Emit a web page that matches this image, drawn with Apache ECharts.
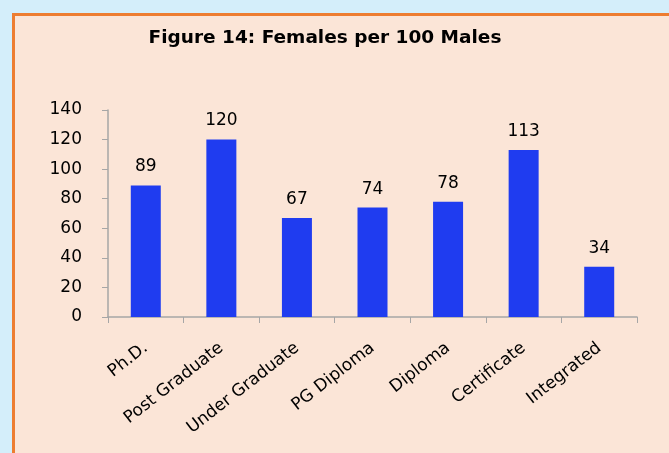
<!DOCTYPE html>
<html>
<head>
<meta charset="utf-8">
<script src="https://cdn.jsdelivr.net/npm/echarts@6/dist/echarts.min.js"></script>
<style>
  html, body { margin: 0; padding: 0; background: #d4eefa; }
  #chart { width: 669px; height: 453px; }
</style>
</head>
<body>
<div id="chart"></div>
<script>
const categories = ['Ph.D.', 'Post Graduate', 'Under Graduate', 'PG Diploma', 'Diploma', 'Certificate', 'Integrated']
const femalesPer100Males = [89, 120, 67, 74, 78, 113, 34]
const yTicks = [0, 20, 40, 60, 80, 100, 120, 140]

const font = 'DejaVu Sans, sans-serif'
const chart = echarts.init(document.getElementById('chart'))

chart.setOption({
  backgroundColor: '#d4eefa',
  animation: false,
  graphic: [{
    type: 'rect',
    z: -10,
    shape: { x: 13.5, y: 14.5, width: 700, height: 500 },
    style: { fill: '#fbe5d7', stroke: '#ed7d31', lineWidth: 3 }
  }],
  title: {
    text: 'Figure 14: Females per 100 Males',
    left: 320,
    textAlign: 'center',
    top: 24,
    textStyle: { fontFamily: font, fontWeight: 'bold', fontSize: 18.5, color: '#000' }
  },
  grid: { left: 108, right: 32, top: 110, bottom: 136, outerBoundsMode: 'none' },
  xAxis: {
    type: 'category',
    data: categories,
    axisLine: { lineStyle: { color: '#a6a6a6', width: 1.5 } },
    axisTick: { show: true, length: 6, lineStyle: { color: '#a6a6a6' } },
    axisLabel: { rotate: 38, interval: 0, margin: 29, fontFamily: font, fontSize: 17, color: '#000' }
  },
  yAxis: {
    type: 'value',
    min: yTicks[0],
    max: yTicks[yTicks.length - 1],
    interval: 20,
    axisLine: { show: true, lineStyle: { color: '#a6a6a6', width: 1.5 } },
    axisTick: { show: true, length: 6, lineStyle: { color: '#a6a6a6' } },
    splitLine: { show: false },
    axisLabel: { margin: 26, fontFamily: font, fontSize: 17, color: '#000', align: 'right' }
  },
  series: [{
    type: 'bar',
    data: femalesPer100Males,
    barWidth: 30,
    itemStyle: { color: '#1f3cf0' },
    label: {
      show: true,
      position: 'top',
      distance: 10,
      fontFamily: font,
      fontSize: 17,
      color: '#000'
    }
  }]
})
</script>
</body>
</html>
